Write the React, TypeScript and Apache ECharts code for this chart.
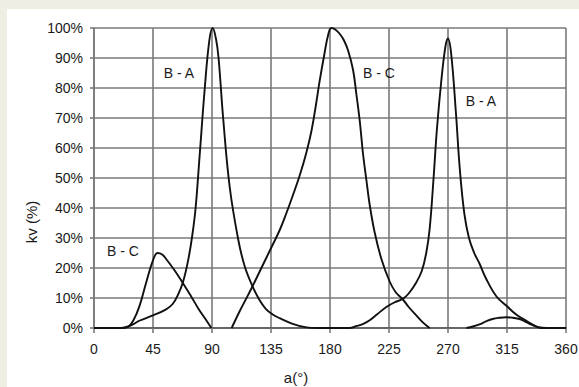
import React, { useEffect, useRef } from 'react';
import * as echarts from 'echarts';

// Angle a(°) vs kv (%) curves
const bcSmall: number[][] = [[0,0],[22,0],[26,0.4],[30,2.5],[34.6,7.2],[39.7,15],[44.7,22.2],[48.5,25],[52,24.5],[55,23],[61,19.5],[67.5,15.2],[74,10.6],[80,6.2],[85,3],[89.5,0]];
const baFirst: number[][] = [[0,0],[20,0],[26,0.5],[30,1.3],[35,2.5],[45,4.2],[55,6.2],[60,8],[64,11],[68,15.5],[72,23],[75,31],[77.5,40],[80.5,57],[84.5,80],[88,96],[90.5,100],[93,96.5],[95,90],[98.5,70],[103.5,47],[110,29.5],[115,20.5],[121,13.8],[126,9.5],[131,6.4],[136,4.6],[141.5,3.3],[151.5,1.4],[162,0.2],[170,0]];
const bcBig: number[][] = [[105,0],[111,5.5],[116,9.7],[121,14],[126,18.5],[131,23],[136,27.5],[141.5,32.5],[146.5,38],[151.5,44],[157,51],[162,58.5],[166,66],[169.5,75],[172.2,82.6],[175.8,91.5],[178.5,97.5],[181,100],[184,99.5],[187.5,98],[190.5,96],[193.8,92.5],[197.6,86],[200.1,78],[202.7,69],[205.2,58],[207.7,49.5],[210.3,41],[214,32],[219.2,23],[225.5,15.5],[230,12],[235.6,9.5],[240,7],[245.8,4.2],[251,1.8],[256,0]];
const baSecond: number[][] = [[170,0],[195,0],[200,0.6],[205,1.3],[210,2.5],[216,4.6],[223,7],[229,8.5],[235.5,9.7],[240,11.5],[245.8,15.2],[250,19],[253.4,25],[256,33],[259,50],[261.5,66],[264.8,82],[268,93.7],[270,96.5],[272.4,91.5],[276,72],[279,53],[282.5,38],[286,30],[290,25],[294,21.5],[299,16.5],[307,10.5],[314.4,7.5],[322,4.5],[330,2.3],[336,0.8],[341,0],[360,0]];
const hump: number[][] = [[284,0],[289,0.5],[294,1.2],[299,2.2],[304,3],[309,3.4],[314.4,3.6],[319.5,3.4],[324.5,3],[328.5,2.2],[332.2,1.4],[336,0.7],[340,0.2],[345,0]];

const xMin = 0, xMax = 360, xStep = 45;
const yMin = 0, yMax = 100, yStep = 10;
const curveLabels = [
  { text: 'B - A', x: 179, y: 73 },
  { text: 'B - C', x: 379, y: 73 },
  { text: 'B - A', x: 481, y: 101 },
  { text: 'B - C', x: 123, y: 251 },
];

const FONT = 'Arial, "Liberation Sans", sans-serif';

export default function App() {
  const ref = useRef<HTMLDivElement>(null);
  useEffect(() => {
    const chart = echarts.init(ref.current!, undefined, { renderer: 'svg' });
    const line = (data: number[][]) => ({
      type: 'line',
      data,
      smooth: 0.4,
      showSymbol: false,
      symbol: 'none',
      lineStyle: { color: '#111', width: 1.9 },
      z: 5,
    });
    chart.setOption({
      animation: false,
      backgroundColor: '#efeee4',
      textStyle: { fontFamily: FONT },
      grid: { left: 94, top: 28, right: 13, bottom: 59, outerBoundsMode: 'none' },
      xAxis: {
        type: 'value', min: xMin, max: xMax, interval: xStep,
        axisLine: { show: true, lineStyle: { color: '#555', width: 1.6 } },
        axisTick: { show: true, length: 5, lineStyle: { color: '#7a7a7a', width: 1.6 } },
        axisLabel: { color: '#1a1a1a', fontSize: 14, margin: 14, fontFamily: FONT },
        splitLine: { show: true, lineStyle: { color: '#7a7a7a', width: 1.6 } },
      },
      yAxis: {
        type: 'value', min: yMin, max: yMax, interval: yStep,
        axisLine: { show: true, lineStyle: { color: '#7a7a7a', width: 1.6 } },
        axisTick: { show: true, length: 4, lineStyle: { color: '#7a7a7a', width: 1.6 } },
        axisLabel: { color: '#1a1a1a', fontSize: 14, margin: 11, formatter: '{value}%', fontFamily: FONT },
        splitLine: { show: true, lineStyle: { color: '#7a7a7a', width: 1.6 } },
      },
      graphic: [
        { type: 'rect', z: -10, silent: true, shape: { x: 7, y: 9, width: 572, height: 378 }, style: { fill: '#ffffff' } },
        ...curveLabels.map((l) => ({
          type: 'text', x: l.x, y: l.y, z: 20,
          style: { text: l.text, fill: '#1a1a1a', font: `14px ${FONT}`, align: 'center', verticalAlign: 'middle' },
        })),
        { type: 'text', x: 296, y: 377, z: 20, style: { text: 'a(°)', fill: '#1a1a1a', font: `15px ${FONT}`, align: 'center', verticalAlign: 'middle' } },
        { type: 'text', x: 31, y: 222, rotation: Math.PI / 2, z: 20, style: { text: 'kv (%)', fill: '#1a1a1a', font: `15px ${FONT}`, align: 'center', verticalAlign: 'middle' } },
      ],
      series: [line(bcSmall), line(baFirst), line(bcBig), line(baSecond), line(hump)],
    });
    return () => chart.dispose();
  }, []);
  return <div ref={ref} style={{ position: 'fixed', left: 0, top: 0, width: 579, height: 387 }} />;
}
